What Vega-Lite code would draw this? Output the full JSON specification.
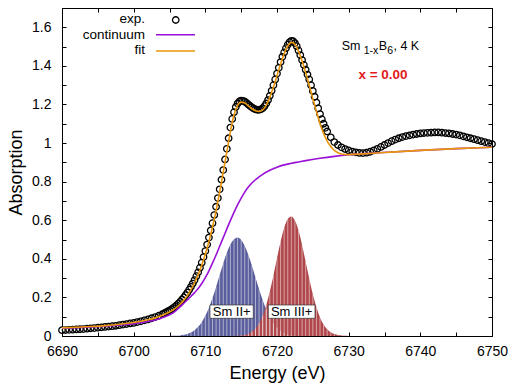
{
  "$schema": "https://vega.github.io/schema/vega-lite/v6.json",
  "width": 430,
  "height": 328,
  "autosize": {"type": "none"},
  "padding": {"left": 62, "top": 8, "right": 16, "bottom": 54},
  "background": "white",
  "config": {
    "font": "Liberation Sans",
    "view": {"stroke": "black", "strokeWidth": 1},
    "axis": {
      "grid": false,
      "domainColor": "black",
      "tickColor": "black",
      "labelColor": "black",
      "titleColor": "black",
      "labelFontSize": 14,
      "titleFontSize": 18,
      "titleFontWeight": "normal",
      "tickSize": -4,
      "labelOverlap": false,
      "labelFlush": false
    }
  },
  "datasets": {
    "g2": [
      {"E": 6705.0, "A": 0.0004}, {"E": 6705.5, "A": 0.0008}, {"E": 6706.0, "A": 0.0017}, {"E": 6706.5, "A": 0.0032},
      {"E": 6707.0, "A": 0.006}, {"E": 6707.5, "A": 0.0107}, {"E": 6708.0, "A": 0.0183}, {"E": 6708.5, "A": 0.030},
      {"E": 6709.0, "A": 0.0474}, {"E": 6709.5, "A": 0.0718}, {"E": 6710.0, "A": 0.1046}, {"E": 6710.5, "A": 0.1464},
      {"E": 6711.0, "A": 0.197}, {"E": 6711.5, "A": 0.254}, {"E": 6712.0, "A": 0.316}, {"E": 6712.5, "A": 0.376},
      {"E": 6713.0, "A": 0.431}, {"E": 6713.5, "A": 0.474}, {"E": 6714.0, "A": 0.502}, {"E": 6714.5, "A": 0.51},
      {"E": 6715.0, "A": 0.498}, {"E": 6715.5, "A": 0.467}, {"E": 6716.0, "A": 0.421}, {"E": 6716.5, "A": 0.364},
      {"E": 6717.0, "A": 0.303}, {"E": 6717.5, "A": 0.242}, {"E": 6718.0, "A": 0.186}, {"E": 6718.5, "A": 0.137},
      {"E": 6719.0, "A": 0.0973}, {"E": 6719.5, "A": 0.0663}, {"E": 6720.0, "A": 0.0434}, {"E": 6720.5, "A": 0.0273},
      {"E": 6721.0, "A": 0.0165}, {"E": 6721.5, "A": 0.0096}, {"E": 6722.0, "A": 0.0053}, {"E": 6722.5, "A": 0.0029},
      {"E": 6723.0, "A": 0.0015}, {"E": 6723.5, "A": 0.0007}, {"E": 6724.0, "A": 0.0003}
    ],
    "g3": [
      {"E": 6713.0, "A": 0.0001}, {"E": 6713.5, "A": 0.0002}, {"E": 6714.0, "A": 0.0005}, {"E": 6714.5, "A": 0.0011},
      {"E": 6715.0, "A": 0.0026}, {"E": 6715.5, "A": 0.0055}, {"E": 6716.0, "A": 0.0112}, {"E": 6716.5, "A": 0.0214},
      {"E": 6717.0, "A": 0.0386}, {"E": 6717.5, "A": 0.0657}, {"E": 6718.0, "A": 0.1057}, {"E": 6718.5, "A": 0.161},
      {"E": 6719.0, "A": 0.231}, {"E": 6719.5, "A": 0.314}, {"E": 6720.0, "A": 0.403}, {"E": 6720.5, "A": 0.489},
      {"E": 6721.0, "A": 0.560}, {"E": 6721.5, "A": 0.606}, {"E": 6722.0, "A": 0.62}, {"E": 6722.5, "A": 0.599},
      {"E": 6723.0, "A": 0.547}, {"E": 6723.5, "A": 0.472}, {"E": 6724.0, "A": 0.385}, {"E": 6724.5, "A": 0.297},
      {"E": 6725.0, "A": 0.216}, {"E": 6725.5, "A": 0.149}, {"E": 6726.0, "A": 0.0965}, {"E": 6726.5, "A": 0.0593},
      {"E": 6727.0, "A": 0.0344}, {"E": 6727.5, "A": 0.0189}, {"E": 6728.0, "A": 0.0098}, {"E": 6728.5, "A": 0.0048},
      {"E": 6729.0, "A": 0.0022}, {"E": 6729.5, "A": 0.001}, {"E": 6730.0, "A": 0.0004}
    ],
    "exp": [
      {"E": 6690, "A": 0.030}, {"E": 6690.5, "A": 0.031}, {"E": 6691, "A": 0.032}, {"E": 6691.5, "A": 0.033},
      {"E": 6692, "A": 0.034}, {"E": 6692.5, "A": 0.035}, {"E": 6693, "A": 0.036}, {"E": 6693.5, "A": 0.038},
      {"E": 6694, "A": 0.040}, {"E": 6694.5, "A": 0.041}, {"E": 6695, "A": 0.043}, {"E": 6695.5, "A": 0.045},
      {"E": 6696, "A": 0.047}, {"E": 6696.5, "A": 0.049}, {"E": 6697, "A": 0.051}, {"E": 6697.5, "A": 0.053},
      {"E": 6698, "A": 0.056}, {"E": 6698.5, "A": 0.059}, {"E": 6699, "A": 0.062}, {"E": 6699.5, "A": 0.065},
      {"E": 6700, "A": 0.068}, {"E": 6700.5, "A": 0.072}, {"E": 6701, "A": 0.076}, {"E": 6701.5, "A": 0.081},
      {"E": 6702, "A": 0.086}, {"E": 6702.5, "A": 0.092}, {"E": 6703, "A": 0.098}, {"E": 6703.5, "A": 0.105},
      {"E": 6704, "A": 0.113}, {"E": 6704.25, "A": 0.117}, {"E": 6704.5, "A": 0.122}, {"E": 6704.75, "A": 0.127},
      {"E": 6705, "A": 0.132}, {"E": 6705.25, "A": 0.138}, {"E": 6705.5, "A": 0.145}, {"E": 6705.75, "A": 0.152},
      {"E": 6706, "A": 0.160}, {"E": 6706.25, "A": 0.169}, {"E": 6706.5, "A": 0.178}, {"E": 6706.75, "A": 0.189},
      {"E": 6707, "A": 0.200}, {"E": 6707.25, "A": 0.212}, {"E": 6707.5, "A": 0.225}, {"E": 6707.75, "A": 0.240},
      {"E": 6708, "A": 0.255}, {"E": 6708.25, "A": 0.272}, {"E": 6708.5, "A": 0.290}, {"E": 6708.75, "A": 0.310},
      {"E": 6709, "A": 0.330}, {"E": 6709.25, "A": 0.354}, {"E": 6709.5, "A": 0.380}, {"E": 6709.75, "A": 0.409},
      {"E": 6710, "A": 0.440}, {"E": 6710.25, "A": 0.474}, {"E": 6710.5, "A": 0.510}, {"E": 6710.75, "A": 0.547},
      {"E": 6711, "A": 0.585}, {"E": 6711.25, "A": 0.627}, {"E": 6711.5, "A": 0.670}, {"E": 6711.75, "A": 0.715},
      {"E": 6712, "A": 0.760}, {"E": 6712.25, "A": 0.810}, {"E": 6712.5, "A": 0.860}, {"E": 6712.75, "A": 0.915},
      {"E": 6713, "A": 0.970}, {"E": 6713.25, "A": 1.025}, {"E": 6713.5, "A": 1.080}, {"E": 6713.75, "A": 1.125},
      {"E": 6714, "A": 1.160}, {"E": 6714.25, "A": 1.187}, {"E": 6714.5, "A": 1.205}, {"E": 6714.75, "A": 1.216},
      {"E": 6715, "A": 1.220}, {"E": 6715.25, "A": 1.219}, {"E": 6715.5, "A": 1.215}, {"E": 6715.75, "A": 1.208},
      {"E": 6716, "A": 1.200}, {"E": 6716.25, "A": 1.192}, {"E": 6716.5, "A": 1.185}, {"E": 6716.75, "A": 1.179},
      {"E": 6717, "A": 1.175}, {"E": 6717.25, "A": 1.172}, {"E": 6717.5, "A": 1.172}, {"E": 6717.75, "A": 1.175},
      {"E": 6718, "A": 1.180}, {"E": 6718.25, "A": 1.191}, {"E": 6718.5, "A": 1.205}, {"E": 6718.75, "A": 1.223},
      {"E": 6719, "A": 1.245}, {"E": 6719.25, "A": 1.271}, {"E": 6719.5, "A": 1.300}, {"E": 6719.75, "A": 1.330},
      {"E": 6720, "A": 1.360}, {"E": 6720.25, "A": 1.390}, {"E": 6720.5, "A": 1.420}, {"E": 6720.75, "A": 1.447},
      {"E": 6721, "A": 1.470}, {"E": 6721.25, "A": 1.492}, {"E": 6721.5, "A": 1.510}, {"E": 6721.75, "A": 1.523},
      {"E": 6722, "A": 1.530}, {"E": 6722.25, "A": 1.528}, {"E": 6722.5, "A": 1.518}, {"E": 6722.75, "A": 1.502},
      {"E": 6723, "A": 1.480}, {"E": 6723.25, "A": 1.456}, {"E": 6723.5, "A": 1.430}, {"E": 6723.75, "A": 1.405},
      {"E": 6724, "A": 1.380}, {"E": 6724.25, "A": 1.355}, {"E": 6724.5, "A": 1.330}, {"E": 6724.75, "A": 1.300},
      {"E": 6725, "A": 1.270}, {"E": 6725.25, "A": 1.240}, {"E": 6725.5, "A": 1.210}, {"E": 6725.75, "A": 1.180},
      {"E": 6726, "A": 1.150}, {"E": 6726.25, "A": 1.124}, {"E": 6726.5, "A": 1.100}, {"E": 6726.75, "A": 1.079},
      {"E": 6727, "A": 1.060}, {"E": 6727.5, "A": 1.030}, {"E": 6728, "A": 1.005}, {"E": 6728.5, "A": 0.990},
      {"E": 6729, "A": 0.978}, {"E": 6729.5, "A": 0.969}, {"E": 6730, "A": 0.962}, {"E": 6730.5, "A": 0.956},
      {"E": 6731, "A": 0.952}, {"E": 6731.5, "A": 0.949}, {"E": 6732, "A": 0.948}, {"E": 6732.5, "A": 0.950},
      {"E": 6733, "A": 0.955}, {"E": 6733.5, "A": 0.962}, {"E": 6734, "A": 0.970}, {"E": 6734.5, "A": 0.980},
      {"E": 6735, "A": 0.990}, {"E": 6735.5, "A": 1.000}, {"E": 6736, "A": 1.010}, {"E": 6736.5, "A": 1.018},
      {"E": 6737, "A": 1.025}, {"E": 6737.5, "A": 1.031}, {"E": 6738, "A": 1.036}, {"E": 6738.5, "A": 1.040},
      {"E": 6739, "A": 1.044}, {"E": 6739.5, "A": 1.047}, {"E": 6740, "A": 1.050}, {"E": 6740.5, "A": 1.052},
      {"E": 6741, "A": 1.053}, {"E": 6741.5, "A": 1.054}, {"E": 6742, "A": 1.055}, {"E": 6742.5, "A": 1.055},
      {"E": 6743, "A": 1.054}, {"E": 6743.5, "A": 1.052}, {"E": 6744, "A": 1.050}, {"E": 6744.5, "A": 1.047},
      {"E": 6745, "A": 1.044}, {"E": 6745.5, "A": 1.040}, {"E": 6746, "A": 1.035}, {"E": 6746.5, "A": 1.030},
      {"E": 6747, "A": 1.025}, {"E": 6747.5, "A": 1.020}, {"E": 6748, "A": 1.015}, {"E": 6748.5, "A": 1.010},
      {"E": 6749, "A": 1.005}, {"E": 6749.5, "A": 1.000}, {"E": 6750, "A": 0.995}
    ],
    "cont": [
      {"E": 6690, "A": 0.04}, {"E": 6692, "A": 0.043}, {"E": 6694, "A": 0.047}, {"E": 6696, "A": 0.051},
      {"E": 6698, "A": 0.057}, {"E": 6700, "A": 0.064}, {"E": 6701, "A": 0.069}, {"E": 6702, "A": 0.075},
      {"E": 6703, "A": 0.083}, {"E": 6704, "A": 0.095}, {"E": 6705, "A": 0.11}, {"E": 6705.5, "A": 0.12},
      {"E": 6706, "A": 0.135}, {"E": 6706.5, "A": 0.152}, {"E": 6707, "A": 0.17}, {"E": 6707.5, "A": 0.188},
      {"E": 6708, "A": 0.206}, {"E": 6708.5, "A": 0.225}, {"E": 6709, "A": 0.246}, {"E": 6709.5, "A": 0.272},
      {"E": 6710, "A": 0.303}, {"E": 6710.5, "A": 0.338}, {"E": 6711, "A": 0.378}, {"E": 6711.5, "A": 0.42},
      {"E": 6712, "A": 0.465}, {"E": 6712.5, "A": 0.51}, {"E": 6713, "A": 0.555}, {"E": 6713.5, "A": 0.599},
      {"E": 6714, "A": 0.641}, {"E": 6714.5, "A": 0.68}, {"E": 6715, "A": 0.715}, {"E": 6715.5, "A": 0.746},
      {"E": 6716, "A": 0.772}, {"E": 6716.5, "A": 0.793}, {"E": 6717, "A": 0.81}, {"E": 6717.5, "A": 0.825},
      {"E": 6718, "A": 0.838}, {"E": 6719, "A": 0.859}, {"E": 6720, "A": 0.875}, {"E": 6721, "A": 0.887},
      {"E": 6722, "A": 0.895}, {"E": 6723, "A": 0.902}, {"E": 6724, "A": 0.909}, {"E": 6726, "A": 0.921},
      {"E": 6728, "A": 0.931}, {"E": 6730, "A": 0.939}, {"E": 6733, "A": 0.947}, {"E": 6736, "A": 0.954},
      {"E": 6740, "A": 0.962}, {"E": 6745, "A": 0.971}, {"E": 6750, "A": 0.978}
    ],
    "fit": [
      {"E": 6690, "A": 0.042}, {"E": 6692, "A": 0.045}, {"E": 6694, "A": 0.049}, {"E": 6696, "A": 0.054},
      {"E": 6698, "A": 0.061}, {"E": 6700, "A": 0.07}, {"E": 6701, "A": 0.076}, {"E": 6702, "A": 0.084},
      {"E": 6703, "A": 0.094}, {"E": 6704, "A": 0.107}, {"E": 6705, "A": 0.124}, {"E": 6705.5, "A": 0.135},
      {"E": 6706, "A": 0.149}, {"E": 6706.5, "A": 0.166}, {"E": 6707, "A": 0.186}, {"E": 6707.5, "A": 0.21},
      {"E": 6708, "A": 0.24}, {"E": 6708.5, "A": 0.276}, {"E": 6709, "A": 0.318}, {"E": 6709.5, "A": 0.367},
      {"E": 6710, "A": 0.425}, {"E": 6710.5, "A": 0.49}, {"E": 6711, "A": 0.565}, {"E": 6711.5, "A": 0.65},
      {"E": 6712, "A": 0.745}, {"E": 6712.5, "A": 0.85}, {"E": 6713, "A": 0.955}, {"E": 6713.5, "A": 1.06},
      {"E": 6714, "A": 1.145}, {"E": 6714.5, "A": 1.195}, {"E": 6715, "A": 1.212}, {"E": 6715.5, "A": 1.208},
      {"E": 6716, "A": 1.193}, {"E": 6716.5, "A": 1.178}, {"E": 6717, "A": 1.168}, {"E": 6717.5, "A": 1.164},
      {"E": 6718, "A": 1.172}, {"E": 6718.5, "A": 1.197}, {"E": 6719, "A": 1.237}, {"E": 6719.5, "A": 1.29},
      {"E": 6720, "A": 1.35}, {"E": 6720.5, "A": 1.41}, {"E": 6721, "A": 1.463}, {"E": 6721.5, "A": 1.503},
      {"E": 6722, "A": 1.522}, {"E": 6722.5, "A": 1.512}, {"E": 6723, "A": 1.475}, {"E": 6723.5, "A": 1.425},
      {"E": 6724, "A": 1.365}, {"E": 6724.5, "A": 1.3}, {"E": 6725, "A": 1.23}, {"E": 6725.5, "A": 1.165},
      {"E": 6726, "A": 1.1}, {"E": 6726.5, "A": 1.05}, {"E": 6727, "A": 1.01}, {"E": 6727.5, "A": 0.982},
      {"E": 6728, "A": 0.962}, {"E": 6728.5, "A": 0.95}, {"E": 6729, "A": 0.943}, {"E": 6730, "A": 0.94},
      {"E": 6732, "A": 0.944}, {"E": 6735, "A": 0.951}, {"E": 6740, "A": 0.962}, {"E": 6745, "A": 0.971},
      {"E": 6750, "A": 0.978}
    ]
  },
  "encoding": {
    "x": {"field": "E", "type": "quantitative", "scale": {"domain": [6690, 6750], "nice": false, "zero": false}, "axis": null},
    "y": {"field": "A", "type": "quantitative", "scale": {"domain": [0, 1.7], "nice": false, "zero": false}, "axis": null}
  },
  "layer": [
    {
      "data": {"name": "g2"},
      "mark": {"type": "area", "color": "#5a5e9c", "interpolate": "monotone"},
      "encoding": {
        "x": {"field": "E", "type": "quantitative", "scale": {"domain": [6690, 6750], "nice": false, "zero": false},
          "axis": {"orient": "bottom", "title": "Energy (eV)", "values": [6690, 6695, 6700, 6705, 6710, 6715, 6720, 6725, 6730, 6735, 6740, 6745, 6750],
            "labelExpr": "datum.value % 10 == 0 ? format(datum.value, 'd') : ''", "labelPadding": 12, "titlePadding": 6}},
        "y": {"field": "A", "type": "quantitative", "scale": {"domain": [0, 1.7], "nice": false, "zero": false},
          "axis": {"orient": "left", "title": "Absorption", "values": [0, 0.1, 0.2, 0.3, 0.4, 0.5, 0.6, 0.7, 0.8, 0.9, 1, 1.1, 1.2, 1.3, 1.4, 1.5, 1.6, 1.7],
            "labelExpr": "round(datum.value * 10) % 2 == 0 ? format(datum.value, '~g') : ''", "labelPadding": 15, "titlePadding": 6}}
      }
    },
    {
      "data": {"name": "g3"},
      "mark": {"type": "area", "color": "#b0474b", "interpolate": "monotone"},
      "encoding": {
        "x": {"field": "E", "type": "quantitative", "scale": {"domain": [6690, 6750], "nice": false, "zero": false},
          "axis": {"orient": "top", "title": null, "labels": false, "domain": false, "values": [6690, 6695, 6700, 6705, 6710, 6715, 6720, 6725, 6730, 6735, 6740, 6745, 6750]}},
        "y": {"field": "A", "type": "quantitative", "scale": {"domain": [0, 1.7], "nice": false, "zero": false},
          "axis": {"orient": "right", "title": null, "labels": false, "domain": false, "values": [0, 0.1, 0.2, 0.3, 0.4, 0.5, 0.6, 0.7, 0.8, 0.9, 1, 1.1, 1.2, 1.3, 1.4, 1.5, 1.6, 1.7]}}
      }
    },
    {
      "data": {"name": "g2"},
      "mark": {"type": "rule", "color": "white", "strokeWidth": 1, "opacity": 0.5},
      "encoding": {"y2": {"datum": 0}}
    },
    {
      "data": {"name": "g3"},
      "mark": {"type": "rule", "color": "white", "strokeWidth": 1, "opacity": 0.5},
      "encoding": {"y2": {"datum": 0}}
    },
    {
      "data": {"values": [
        {"E": 6710.65, "E2": 6716.69, "A": 0.1607, "A2": 0.0917},
        {"E": 6718.79, "E2": 6725.3, "A": 0.1607, "A2": 0.0917}
      ]},
      "mark": {"type": "rect", "fill": "white", "stroke": "#333333", "strokeWidth": 0.7},
      "encoding": {"x2": {"field": "E2"}, "y2": {"field": "A2"}}
    },
    {
      "data": {"values": [
        {"E": 6713.68, "A": 0.1036, "label": "Sm II+"},
        {"E": 6722.05, "A": 0.1036, "label": "Sm III+"}
      ]},
      "mark": {"type": "text", "align": "center", "baseline": "alphabetic", "fontSize": 13, "color": "black"},
      "encoding": {"text": {"field": "label"}}
    },
    {
      "data": {"name": "exp"},
      "mark": {"type": "point", "shape": "circle", "filled": false, "stroke": "black", "strokeWidth": 1.3, "size": 42, "opacity": 1}
    },
    {
      "data": {"name": "cont"},
      "mark": {"type": "line", "color": "#9a10d6", "strokeWidth": 1.6, "interpolate": "monotone"}
    },
    {
      "data": {"name": "fit"},
      "mark": {"type": "line", "color": "#e8960c", "strokeWidth": 1.6, "interpolate": "monotone"}
    },
    {
      "data": {"values": [
        {"E": 6701.58, "A": 1.6197, "label": "exp."},
        {"E": 6701.58, "A": 1.5419, "label": "continuum"},
        {"E": 6701.58, "A": 1.459, "label": "fit"}
      ]},
      "mark": {"type": "text", "align": "right", "baseline": "alphabetic", "fontSize": 13.5, "color": "black"},
      "encoding": {"text": {"field": "label"}}
    },
    {
      "data": {"values": [{"E": 6705.87, "A": 1.6378}]},
      "mark": {"type": "point", "shape": "circle", "filled": false, "stroke": "black", "strokeWidth": 1.3, "size": 42, "opacity": 1}
    },
    {
      "data": {"values": [{"E": 6703.12, "E2": 6708.56, "A": 1.5616}]},
      "mark": {"type": "rule", "color": "#9a10d6", "strokeWidth": 1.6},
      "encoding": {"x2": {"field": "E2"}}
    },
    {
      "data": {"values": [{"E": 6703.12, "E2": 6708.56, "A": 1.4771}]},
      "mark": {"type": "rule", "color": "#e8960c", "strokeWidth": 1.6},
      "encoding": {"x2": {"field": "E2"}}
    },
    {
      "data": {"values": [
        {"E": 6729.03, "A": 1.4823, "label": "Sm"},
        {"E": 6734.2, "A": 1.4823, "label": "B"},
        {"E": 6736.25, "A": 1.4823, "label": ", 4 K"}
      ]},
      "mark": {"type": "text", "align": "left", "baseline": "alphabetic", "fontSize": 12.5, "color": "black"},
      "encoding": {"text": {"field": "label"}}
    },
    {
      "data": {"values": [
        {"E": 6732.1, "A": 1.4616, "label": "1-x"},
        {"E": 6735.4, "A": 1.4616, "label": "6"}
      ]},
      "mark": {"type": "text", "align": "left", "baseline": "alphabetic", "fontSize": 10.5, "color": "black"},
      "encoding": {"text": {"field": "label"}}
    },
    {
      "data": {"values": [{"E": 6734.79, "A": 1.332, "label": "x = 0.00"}]},
      "mark": {"type": "text", "align": "center", "baseline": "alphabetic", "fontSize": 13.5, "fontWeight": "bold", "color": "#e31a1c"},
      "encoding": {"text": {"field": "label"}}
    }
  ],
  "resolve": {"axis": {"x": "independent", "y": "independent"}}
}
